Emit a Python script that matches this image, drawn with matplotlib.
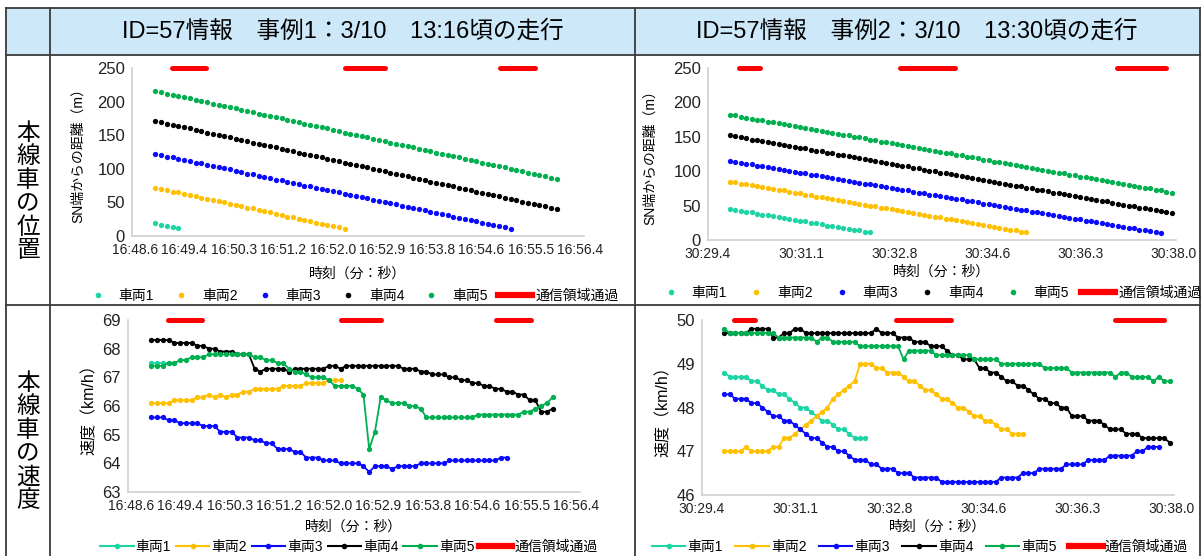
import numpy as np
import matplotlib
matplotlib.use('Agg')
import matplotlib.pyplot as plt
from matplotlib.lines import Line2D
from matplotlib.patches import Rectangle

plt.rcParams['font.family'] = ['Liberation Sans', 'Noto Sans CJK JP']
plt.rcParams['axes.unicode_minus'] = False

W, H = 1203, 556

# 0.1秒ごとの計測
left_t0 = 48.94
right_t0 = 29.78
dt = 0.1

titles = ['ID=57情報　事例1：3/10　13:16頃の走行', 'ID=57情報　事例2：3/10　13:30頃の走行']
row_labels = ['本線車の位置', '本線車の速度']
names = ['車両1', '車両2', '車両3', '車両4', '車両5']
zone_name = '通信領域通過'
colors = ['#1cd4a4', '#ffc000', '#0a0aff', '#000000', '#00b050']

left_ticks = ['16:48.6', '16:49.4', '16:50.3', '16:51.2', '16:52.0',
              '16:52.9', '16:53.8', '16:54.6', '16:55.5', '16:56.4']
right_ticks = ['30:29.4', '30:31.1', '30:32.8', '30:34.6', '30:36.3', '30:38.0']

# 通信領域を通過した区間（秒）
left_zones = [(49.23, 49.83), (52.24, 52.95), (54.95, 55.56)]
right_zones = [(29.95, 30.34), (32.94, 33.95), (36.97, 37.87)]

# 事例1 SN端からの距離 (m)
dist1_v1 = [19, 17, 15, 13, 12]
dist1_v2 = [72, 70, 68, 66, 65, 63, 61, 59, 57, 55, 53, 52, 50, 48, 46, 44, 42,
            41, 39, 37, 35, 33, 31, 29, 28, 26, 24, 22, 20, 18, 17, 15, 13, 11]
dist1_v3 = [122, 120, 118, 117, 115, 113, 111, 109, 108, 106, 104,
            102, 101, 99, 97, 95, 93, 92, 90, 88, 86,
            84, 83, 81, 79, 77, 75, 74, 72, 70, 68,
            67, 65, 63, 61, 59, 58, 56, 54, 52, 50,
            49, 47, 45, 43, 41, 40, 38, 36, 34, 32,
            31, 29, 27, 25, 24, 22, 20, 18, 16, 15, 13, 11]
dist1_v4 = [171, 169, 167, 165, 164, 162, 160, 158, 156, 154, 152,
            150, 149, 147, 145, 143, 141, 139, 137, 135, 134,
            132, 130, 128, 126, 124, 122, 120, 119, 117, 115,
            113, 111, 109, 107, 106, 104, 102, 100, 98, 96,
            94, 92, 91, 89, 87, 85, 83, 81, 79, 77,
            76, 74, 72, 70, 68, 66, 64, 62, 61, 59,
            57, 55, 53, 51, 49, 48, 46, 44, 42, 40]
dist1_v5 = [216, 214, 212, 210, 209, 207, 205, 203, 201, 199, 197,
            195, 194, 192, 190, 188, 186, 184, 182, 180, 179,
            177, 175, 173, 171, 169, 167, 165, 164, 162, 160,
            158, 156, 154, 152, 151, 149, 147, 145, 143, 141,
            139, 137, 136, 134, 132, 130, 128, 126, 124, 122,
            121, 119, 117, 115, 113, 111, 109, 107, 106, 104,
            102, 100, 98, 96, 94, 93, 91, 89, 87, 85]

# 事例2 SN端からの距離 (m)
dist2_v1 = [45, 44, 42, 41, 40, 38, 37, 36, 35, 33, 32, 31, 29, 28, 27, 25, 24,
            23, 21, 20, 19, 17, 16, 15, 14, 12, 11]
dist2_v2 = [85, 84, 82, 81, 80, 78, 77, 76, 74, 73,
            72, 70, 69, 68, 66, 65, 63, 62, 61, 59,
            58, 57, 55, 54, 53, 51, 50, 49, 47, 46,
            45, 43, 42, 41, 39, 38, 37, 35, 34, 33,
            31, 30, 29, 27, 26, 24, 23, 22, 20, 19,
            18, 16, 15, 14, 12, 11]
dist2_v3 = [115, 114, 112, 111, 110, 108, 107, 106, 104, 103,
            102, 101, 99, 98, 97, 95, 94, 93, 91, 90,
            89, 87, 86, 85, 83, 82, 81, 80, 78, 77,
            76, 74, 73, 72, 70, 69, 68, 66, 65, 64,
            62, 61, 60, 59, 57, 56, 55, 53, 52, 51,
            49, 48, 47, 45, 44, 43, 41, 40, 39, 38,
            36, 35, 34, 32, 31, 30, 28, 27, 26, 24,
            23, 22, 20, 19, 18, 17, 15, 14, 13, 11, 10]
dist2_v4 = [152, 151, 149, 148, 146, 145, 144, 142, 141, 140,
            138, 137, 135, 134, 133, 131, 130, 129, 127, 126,
            124, 123, 122, 120, 119, 118, 116, 115, 113, 112,
            111, 109, 108, 107, 105, 104, 102, 101, 100, 98,
            97, 96, 94, 93, 91, 90, 89, 87, 86, 84,
            83, 82, 80, 79, 78, 76, 75, 73, 72, 71,
            69, 68, 67, 65, 64, 62, 61, 60, 58, 57,
            56, 54, 53, 51, 50, 49, 47, 46, 45, 43,
            42, 40, 39]
dist2_v5 = [182, 181, 179, 178, 176, 175, 174, 172, 171, 170,
            168, 167, 165, 164, 163, 161, 160, 159, 157, 156,
            154, 153, 152, 150, 149, 148, 146, 145, 143, 142,
            141, 139, 138, 137, 135, 134, 132, 131, 130, 128,
            127, 126, 124, 123, 121, 120, 119, 117, 116, 114,
            113, 112, 110, 109, 108, 106, 105, 103, 102, 101,
            99, 98, 97, 95, 94, 92, 91, 90, 88, 87,
            86, 84, 83, 81, 80, 79, 77, 76, 75, 73,
            72, 70, 69]

# 事例1 速度 (km/h)
spd1_v1 = [67.5, 67.5, 67.5, 67.5, 67.5]
spd1_v2 = [66.1, 66.1, 66.1, 66.1, 66.2, 66.2, 66.2, 66.2, 66.3, 66.3,
           66.4, 66.3, 66.4, 66.3, 66.4, 66.4, 66.5, 66.5, 66.6, 66.6,
           66.6, 66.6, 66.6, 66.7, 66.7, 66.7, 66.7, 66.8, 66.8, 66.8,
           66.8, 66.9, 66.9, 66.9]
spd1_v3 = [65.6, 65.6, 65.6, 65.5, 65.5, 65.4, 65.4, 65.4, 65.4, 65.3,
           65.3, 65.3, 65.1, 65.1, 65.1, 64.9, 64.9, 64.9, 64.8, 64.8,
           64.7, 64.7, 64.5, 64.5, 64.5, 64.4, 64.4, 64.2, 64.2, 64.2,
           64.1, 64.1, 64.1, 64.0, 64.0, 64.0, 64.0, 63.9, 63.7, 63.9,
           63.9, 63.9, 63.8, 63.9, 63.9, 63.9, 63.9, 64.0, 64.0, 64.0,
           64.0, 64.0, 64.1, 64.1, 64.1, 64.1, 64.1, 64.1, 64.1, 64.1,
           64.1, 64.2, 64.2]
spd1_v4 = [68.3, 68.3, 68.3, 68.3, 68.2, 68.2, 68.2, 68.2, 68.1, 68.1,
           68.0, 68.0, 67.9, 67.9, 67.9, 67.8, 67.8, 67.8, 67.3, 67.2,
           67.3, 67.3, 67.3, 67.3, 67.2, 67.3, 67.3, 67.3, 67.3, 67.3,
           67.3, 67.4, 67.4, 67.3, 67.4, 67.4, 67.4, 67.4, 67.4, 67.4,
           67.4, 67.4, 67.4, 67.4, 67.3, 67.3, 67.3, 67.2, 67.2, 67.1,
           67.1, 67.1, 67.0, 67.0, 66.9, 66.9, 66.8, 66.8, 66.7, 66.7,
           66.6, 66.6, 66.5, 66.5, 66.4, 66.4, 66.2, 66.2, 65.8, 65.8,
           65.9]
spd1_v5 = [67.4, 67.4, 67.4, 67.5, 67.5, 67.6, 67.6, 67.7, 67.7, 67.7,
           67.8, 67.8, 67.8, 67.8, 67.8, 67.8, 67.8, 67.8, 67.7, 67.7,
           67.6, 67.6, 67.5, 67.5, 67.3, 67.2, 67.2, 67.1, 67.0, 67.0,
           67.0, 66.9, 66.7, 66.7, 66.7, 66.7, 66.6, 66.4, 64.5, 65.1,
           66.3, 66.2, 66.1, 66.1, 66.1, 66.0, 66.0, 65.9, 65.6, 65.6,
           65.6, 65.6, 65.6, 65.6, 65.6, 65.6, 65.6, 65.7, 65.7, 65.7,
           65.7, 65.7, 65.7, 65.7, 65.7, 65.8, 65.8, 65.9, 66.0, 66.1,
           66.3]

# 事例2 速度 (km/h)
spd2_v1 = [48.8, 48.7, 48.7, 48.7, 48.7, 48.6, 48.6, 48.5, 48.4, 48.4,
           48.3, 48.3, 48.2, 48.1, 48.0, 48.0, 47.9, 47.8, 47.7, 47.7,
           47.6, 47.5, 47.5, 47.4, 47.3, 47.3, 47.3]
spd2_v2 = [47.0, 47.0, 47.0, 47.0, 47.1, 47.0, 47.0, 47.0, 47.0, 47.1,
           47.1, 47.3, 47.3, 47.4, 47.5, 47.6, 47.7, 47.8, 47.9, 48.0,
           48.2, 48.3, 48.4, 48.5, 48.6, 49.0, 49.0, 49.0, 48.9, 48.9,
           48.8, 48.8, 48.8, 48.7, 48.6, 48.6, 48.5, 48.4, 48.4, 48.3,
           48.2, 48.2, 48.1, 48.0, 48.0, 47.9, 47.8, 47.8, 47.7, 47.7,
           47.6, 47.5, 47.5, 47.4, 47.4, 47.4]
spd2_v3 = [48.3, 48.3, 48.2, 48.2, 48.2, 48.1, 48.1, 48.0, 47.9, 47.8,
           47.8, 47.7, 47.7, 47.6, 47.5, 47.4, 47.3, 47.3, 47.2, 47.1,
           47.1, 47.0, 47.0, 46.9, 46.8, 46.8, 46.8, 46.7, 46.7, 46.6,
           46.6, 46.6, 46.5, 46.5, 46.5, 46.4, 46.4, 46.4, 46.4, 46.4,
           46.3, 46.3, 46.3, 46.3, 46.3, 46.3, 46.3, 46.3, 46.3, 46.3,
           46.3, 46.4, 46.4, 46.4, 46.4, 46.5, 46.5, 46.5, 46.6, 46.6,
           46.6, 46.6, 46.6, 46.7, 46.7, 46.7, 46.7, 46.8, 46.8, 46.8,
           46.8, 46.9, 46.9, 46.9, 46.9, 46.9, 47.0, 47.0, 47.1, 47.1,
           47.1]
spd2_v4 = [49.7, 49.7, 49.7, 49.7, 49.7, 49.8, 49.8, 49.8, 49.8, 49.6,
           49.6, 49.7, 49.7, 49.8, 49.8, 49.7, 49.7, 49.7, 49.7, 49.7,
           49.7, 49.7, 49.7, 49.7, 49.7, 49.7, 49.7, 49.7, 49.8, 49.7,
           49.7, 49.7, 49.6, 49.6, 49.6, 49.5, 49.5, 49.5, 49.4, 49.4,
           49.4, 49.3, 49.2, 49.2, 49.1, 49.1, 49.1, 48.9, 48.9, 48.8,
           48.8, 48.7, 48.6, 48.6, 48.5, 48.5, 48.4, 48.3, 48.2, 48.2,
           48.1, 48.1, 48.0, 48.0, 47.8, 47.8, 47.8, 47.7, 47.7, 47.7,
           47.6, 47.5, 47.5, 47.5, 47.4, 47.4, 47.4, 47.3, 47.3, 47.3,
           47.3, 47.3, 47.2]
spd2_v5 = [49.8, 49.7, 49.7, 49.7, 49.7, 49.7, 49.7, 49.7, 49.7, 49.7,
           49.6, 49.6, 49.6, 49.6, 49.6, 49.6, 49.6, 49.5, 49.6, 49.6,
           49.5, 49.5, 49.5, 49.5, 49.5, 49.4, 49.4, 49.4, 49.4, 49.4,
           49.4, 49.4, 49.4, 49.1, 49.3, 49.3, 49.3, 49.3, 49.3, 49.2,
           49.2, 49.2, 49.2, 49.2, 49.2, 49.2, 49.1, 49.1, 49.1, 49.1,
           49.1, 49.0, 49.0, 49.0, 49.0, 49.0, 49.0, 49.0, 49.0, 48.9,
           48.9, 48.9, 48.9, 48.9, 48.8, 48.8, 48.8, 48.8, 48.8, 48.8,
           48.8, 48.8, 48.7, 48.8, 48.8, 48.7, 48.7, 48.7, 48.7, 48.6,
           48.7, 48.6, 48.6]


def px_axes(fig, left, top, right, bottom):
    return fig.add_axes([left / W, 1 - bottom / H, (right - left) / W, (bottom - top) / H])


def times(t0, values):
    return t0 + dt * np.arange(len(values))


def style_axes(ax, tick_start, tick_step, tick_labels, xlim, ylim, yticks,
               ylabel, ylabel_size, ylabel_pad, xlabel_pad):
    ax.set_facecolor('none')
    for side in ['top', 'right']:
        ax.spines[side].set_visible(False)
    for side in ['left', 'bottom']:
        ax.spines[side].set_color('#d0d0d0')
        ax.spines[side].set_linewidth(1.2)
    ax.set_xlim(*xlim)
    ax.set_ylim(*ylim)
    ax.set_xticks([tick_start + tick_step * i for i in range(len(tick_labels))])
    ax.set_xticklabels(tick_labels, fontsize=10)
    ax.set_yticks(yticks)
    ax.set_yticklabels([str(v) for v in yticks], fontsize=12)
    ax.tick_params(length=0, pad=5, colors='#222222')
    ax.set_xlabel('時刻（分：秒）', fontsize=10, labelpad=xlabel_pad)
    ax.set_ylabel(ylabel, fontsize=ylabel_size, labelpad=ylabel_pad)


def draw_zones(ax, zones, y):
    for x0, x1 in zones:
        ax.plot([x0, x1], [y, y], color='#ff0000', lw=3.6, solid_capstyle='round',
                clip_on=False, zorder=5)


fig = plt.figure(figsize=(W / 100, H / 100), dpi=100)

# 表の枠
bg = fig.add_axes([0, 0, 1, 1])
bg.set_xlim(0, W)
bg.set_ylim(H, 0)
bg.axis('off')
bg.add_patch(Rectangle((6, 8), 1194, 47, facecolor='#cde8f9', edgecolor='none'))
for y in [8, 55, 305]:
    bg.plot([6, 1200], [y, y], color='#3a3a3a', lw=1.3)
for x in [6, 50, 635, 1200]:
    bg.plot([x, x], [8, 556], color='#3a3a3a', lw=1.3)
bg.text(343, 31, titles[0], ha='center', va='center', fontsize=17)
bg.text(917, 31, titles[1], ha='center', va='center', fontsize=17)
bg.text(28, 192, '\n'.join(row_labels[0]), ha='center', va='center', fontsize=17,
        linespacing=1.02, family='Noto Sans CJK JP')
bg.text(28, 442, '\n'.join(row_labels[1]), ha='center', va='center', fontsize=17,
        linespacing=1.02, family='Noto Sans CJK JP')

dist1 = [dist1_v1, dist1_v2, dist1_v3, dist1_v4, dist1_v5]
dist2 = [dist2_v1, dist2_v2, dist2_v3, dist2_v4, dist2_v5]
spd1 = [spd1_v1, spd1_v2, spd1_v3, spd1_v4, spd1_v5]
spd2 = [spd2_v1, spd2_v2, spd2_v3, spd2_v4, spd2_v5]

# 位置（散布図）
ax_tl = px_axes(fig, 132, 68, 584, 236)
ax_tr = px_axes(fig, 708, 68, 1176, 240)
for ax, data, t0 in [(ax_tl, dist1, left_t0), (ax_tr, dist2, right_t0)]:
    for vals, c in zip(data, colors):
        ax.plot(times(t0, vals), vals, ls='none', marker='o', ms=3.8, color=c, mec='none')
style_axes(ax_tl, 48.58, 0.864, left_ticks, (48.53, 56.42), (0, 250),
           [0, 50, 100, 150, 200, 250], 'SN端からの距離（m）', 10, 9, 7)
style_axes(ax_tr, 29.37, 1.728, right_ticks, (29.37, 38.06), (0, 250),
           [0, 50, 100, 150, 200, 250], 'SN端からの距離（m）', 10, 12, 3)
draw_zones(ax_tl, left_zones, 250)
draw_zones(ax_tr, right_zones, 250)

# 速度（折れ線）
ax_bl = px_axes(fig, 128, 320, 580, 492)
ax_br = px_axes(fig, 702, 320, 1174, 495)
for ax, data, t0 in [(ax_bl, spd1, left_t0), (ax_br, spd2, right_t0)]:
    for vals, c in zip(data, colors):
        ax.plot(times(t0, vals), vals, lw=1.3, marker='o', ms=3.8, color=c, mec='none')
style_axes(ax_bl, 48.58, 0.864, left_ticks, (48.53, 56.42), (63, 69),
           [63, 64, 65, 66, 67, 68, 69], '速度（km/h）', 11.5, 4, 5)
style_axes(ax_br, 29.37, 1.728, right_ticks, (29.37, 38.06), (46, 50),
           [46, 47, 48, 49, 50], '速度（km/h）', 11.5, 4, 3)
draw_zones(ax_bl, left_zones, 69)
draw_zones(ax_br, right_zones, 50)

# 凡例
dot_handles = [Line2D([], [], ls='none', marker='o', ms=4, color=c, mec='none') for c in colors]
line_handles = [Line2D([], [], lw=1.5, marker='o', ms=4, color=c, mec='none') for c in colors]
zone_handle = Line2D([], [], color='#ff0000', lw=4.5)

# (中心x, 中心y, ハンドル, 列間隔, 文字と記号の間隔)
legend_pos = [(350, 296, dot_handles, 0.75, 0.3),
              (928, 293, dot_handles, 0.9, 0.3),
              (349, 547, line_handles, 0.35, 0.15),
              (920, 547, line_handles, 0.9, 0.15)]
for x, y, hs, cs, tp in legend_pos:
    fig.legend(hs + [zone_handle], names + [zone_name], loc='center',
               bbox_to_anchor=(x / W, 1 - y / H), ncol=6, frameon=False,
               fontsize=10, handlelength=2.4, handletextpad=tp,
               columnspacing=cs, borderpad=0)

fig.savefig('out.png', dpi=100)
